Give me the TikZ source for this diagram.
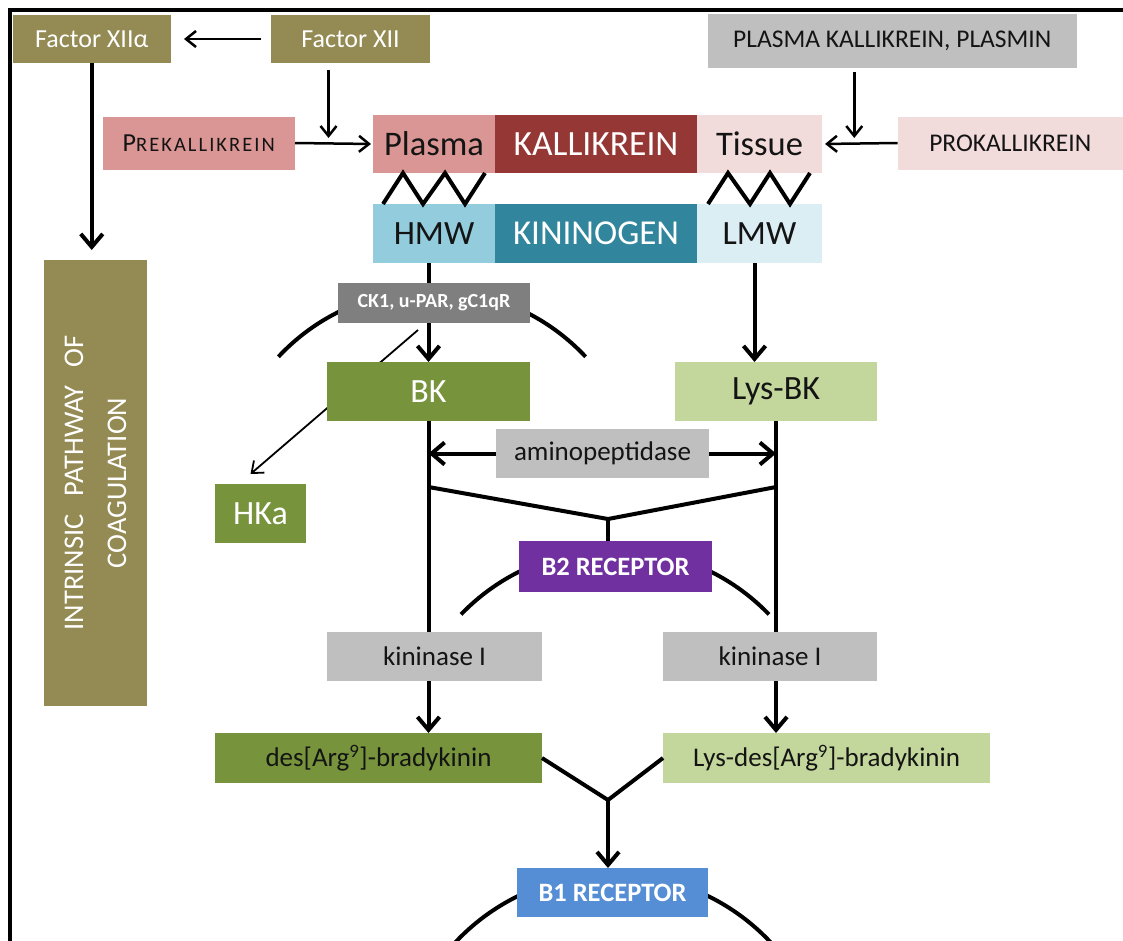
\documentclass[tikz,border=0pt]{standalone}
\usepackage{fontspec}
\setmainfont{Carlito}
\usetikzlibrary{arrows.meta,calc}
\pgfdeclarelayer{bg}
\pgfsetlayers{bg,main}
\definecolor{ink}{HTML}{141414}
\definecolor{oliveC}{HTML}{948A54}
\definecolor{roseC}{HTML}{D99694}
\definecolor{wineC}{HTML}{953735}
\definecolor{blushC}{HTML}{F2DCDB}
\definecolor{skyC}{HTML}{93CDDD}
\definecolor{tealC}{HTML}{31859C}
\definecolor{iceC}{HTML}{DBEEF4}
\definecolor{leafC}{HTML}{77933C}
\definecolor{limeC}{HTML}{C3D69B}
\definecolor{greyC}{HTML}{BFBFBF}
\definecolor{slateC}{HTML}{7F7F7F}
\definecolor{violetC}{HTML}{7030A0}
\definecolor{azureC}{HTML}{558ED5}
\newcommand{\setfs}[1]{\fontsize{#1}{#1}\selectfont}
\tikzset{
  box/.style={rectangle, inner sep=0pt, outer sep=0pt, align=center, text=ink},
  light text/.style={text=white},
  heavy/.style={line width=4pt},
  light/.style={line width=2.5pt},
  heavyarrow/.style={heavy, -{Straight Barb[length=13pt,width=22pt]}},
  lightarrow/.style={light, -{Straight Barb[length=10pt,width=16pt]}},
  thinarrow/.style={line width=1.8pt, -{Straight Barb[length=10pt,width=16pt]}},
  zig/.style={line width=4pt},
  membrane/.style={line width=4pt},
}
\begin{document}
\begin{tikzpicture}[x=1pt,y=-1pt]
\path[use as bounding box] (0,0) rectangle (1123,940);
\clip (0,0) rectangle (1123,940);

% frame
\draw[line width=4pt] (10,945) -- (10,10) -- (1128,10);

% top row
\node[box, fill=oliveC, light text, minimum width=158.5pt, minimum height=48pt, font=\setfs{26}] (fxa) at (91.75,39) {Factor XIIα};
\node[box, fill=oliveC, light text, minimum width=159pt, minimum height=48pt, font=\setfs{26}] (fx) at (350.5,39) {Factor XII};
\node[box, fill=greyC, minimum width=369.5pt, minimum height=54pt, font=\setfs{25.5}] (pkp) at (892.25,41) {PLASMA KALLIKREIN, PLASMIN};

% precursors and kallikrein
\node[box, fill=roseC, minimum width=192.5pt, minimum height=53pt] (prek) at (198.75,143)
  {{\setfs{26}P}{\setfs{20.5}\addfontfeature{LetterSpace=10}REKALLIKREIN}};
\node[box, fill=blushC, minimum width=225.5pt, minimum height=53pt, font=\setfs{25.5}] (prok) at (1010.25,143) {PROKALLIKREIN};
\node[box, fill=roseC, minimum width=122pt, minimum height=58pt, font=\setfs{34.5}] (plasma) at (434,144) {Plasma};
\node[box, fill=wineC, light text, minimum width=202pt, minimum height=58pt, font=\setfs{35.5}] (kal) at (596,144) {KALLIKREIN};
\node[box, fill=blushC, minimum width=125pt, minimum height=58pt, font=\setfs{34.5}] (tissue) at (759.5,144) {Tissue};

% kininogen
\node[box, fill=skyC, minimum width=122pt, minimum height=59pt, font=\setfs{34}] (hmw) at (434,233.5) {HMW};
\node[box, fill=tealC, light text, minimum width=202pt, minimum height=59pt, font=\setfs{35}] (kin) at (596,233.5) {KININOGEN};
\node[box, fill=iceC, minimum width=125pt, minimum height=59pt, font=\setfs{34}] (lmw) at (759.5,233.5) {LMW};

% coagulation branch
\node[box, fill=oliveC, minimum width=103pt, minimum height=446pt] (intr) at (95.5,483) {};
\node[rotate=90, align=center, text=white, inner sep=0pt, font=\fontsize{28.5}{43}\selectfont] (intrtext) at (intr.center)
  {INTRINSIC\hspace{18pt}PATHWAY\hspace{18pt}OF\\COAGULATION};

% kinins
\node[box, fill=slateC, light text, minimum width=192pt, minimum height=40pt, font=\bfseries\setfs{20}] (ck1) at (434,303) {CK1, u-PAR, gC1qR};
\node[box, fill=leafC, light text, minimum width=203pt, minimum height=59pt, font=\setfs{34}] (bk) at (428.5,391.5) {BK};
\node[box, fill=limeC, minimum width=202pt, minimum height=59pt, font=\setfs{34}] (lysbk) at (776,391.5) {Lys-BK};
\node[box, fill=leafC, light text, minimum width=91pt, minimum height=59pt, font=\setfs{34}] (hka) at (260.5,513.5) {HKa};
\node[box, fill=greyC, minimum width=213pt, minimum height=49pt, font=\setfs{27}] (amino) at (602.5,453.5) {aminopeptidase};
\node[box, fill=violetC, light text, minimum width=193pt, minimum height=51pt, font=\bfseries\setfs{26.5}] (b2) at (615.5,566.5) {B2 RECEPTOR};
\node[box, fill=greyC, minimum width=215pt, minimum height=49pt, font=\setfs{27}] (kin1) at (434.5,656.5) {kininase I};
\node[box, fill=greyC, minimum width=214pt, minimum height=49pt, font=\setfs{27}] (kin2) at (770,656.5) {kininase I};
\node[box, fill=leafC, minimum width=327pt, minimum height=50pt, font=\setfs{27}] (des) at (378.5,758) {des[Arg\textsuperscript{9}]-bradykinin};
\node[box, fill=limeC, minimum width=327pt, minimum height=50pt, font=\setfs{27}] (lysdes) at (826.5,758) {Lys-des[Arg\textsuperscript{9}]-bradykinin};
\node[box, fill=azureC, light text, minimum width=191pt, minimum height=49pt, font=\bfseries\setfs{26.5}] (b1) at (612.5,892.5) {B1 RECEPTOR};

% membranes and connectors that pass behind boxes
\coordinate (ckc) at (432,500);
\coordinate (b2c) at (615,763);
\coordinate (b1c) at (613,1090);
\coordinate (hkstart) at ([xshift=-16pt,yshift=-7pt]ck1.south);
\begin{pgfonlayer}{bg}
  \draw[membrane] ([shift={(137:210pt)}]ckc) arc[start angle=137, end angle=43, radius=210pt];
  \draw[membrane] ([shift={(136:214pt)}]b2c) arc[start angle=136, end angle=44, radius=214pt];
  \draw[membrane] ([shift={(140:216pt)}]b1c) arc[start angle=140, end angle=40, radius=216pt];
  \draw[heavyarrow] (bk.north |- hmw.south) -- (bk.north);
  \draw[thinarrow] (hkstart) -- ([xshift=-10pt,yshift=10pt]hka.north);
\end{pgfonlayer}

% activation arrows at the top
\draw[lightarrow, shorten <=10pt, shorten >=13pt] (fx.west) -- (fxa.east);
\coordinate (fxd) at ([xshift=-22pt]fx.south);
\draw[lightarrow, shorten <=7pt, shorten >=6pt] (fxd) -- (fxd |- plasma.west);
\draw[lightarrow, shorten >=2pt] (prek.east) -- (plasma.west);
\coordinate (pkd) at ([xshift=-38pt]pkp.south);
\draw[lightarrow, shorten <=4pt, shorten >=6pt] (pkd) -- (pkd |- tissue.east);
\draw[lightarrow, shorten >=3pt] (prok.west) -- (tissue.east);
\draw[heavyarrow, shorten >=10pt] (fxa.south) -- (fxa.south |- intr.north);

% kallikrein cleaving kininogen
\draw[zig] ([xshift=10pt]hmw.north west) -- ++(20,-31) -- ++(20,31) -- ++(22,-31) -- ++(20,31) -- ++(20,-31);
\draw[zig] ([xshift=11pt]lmw.north west) -- ++(20,-31) -- ++(22,31) -- ++(20,-31) -- ++(20,31) -- ++(20,-31);

% tissue branch
\coordinate (lmwout) at ([xshift=-5pt]lmw.south);
\draw[heavyarrow] (lmwout) -- (lmwout |- lysbk.north);

% kinin conversions
\draw[heavy] (bk.south) -- (bk.south |- kin1.north);
\draw[heavy] (lysbk.south) -- (lysbk.south |- kin2.north);
\draw[heavyarrow] (amino.west) -- (amino.west -| bk.south);
\draw[heavyarrow] (amino.east) -- (amino.east -| lysbk.south);
\coordinate (jl) at ([yshift=-66pt]bk.south);
\coordinate (jr) at ([yshift=-66pt]lysbk.south);
\coordinate (j2) at (608,519);
\draw[heavy] (jl) -- (j2) -- (jr);
\draw[heavy] (j2) -- (j2 |- b2.north);
\draw[heavyarrow] (bk.south |- kin1.south) -- (bk.south |- des.north);
\draw[heavyarrow] (lysbk.south |- kin2.south) -- (lysbk.south |- lysdes.north);
\coordinate (j1) at (608,800);
\draw[heavy] (des.east) -- (j1) -- (lysdes.west);
\draw[heavyarrow] (j1) -- (j1 |- b1.north);
\end{tikzpicture}
\end{document}
